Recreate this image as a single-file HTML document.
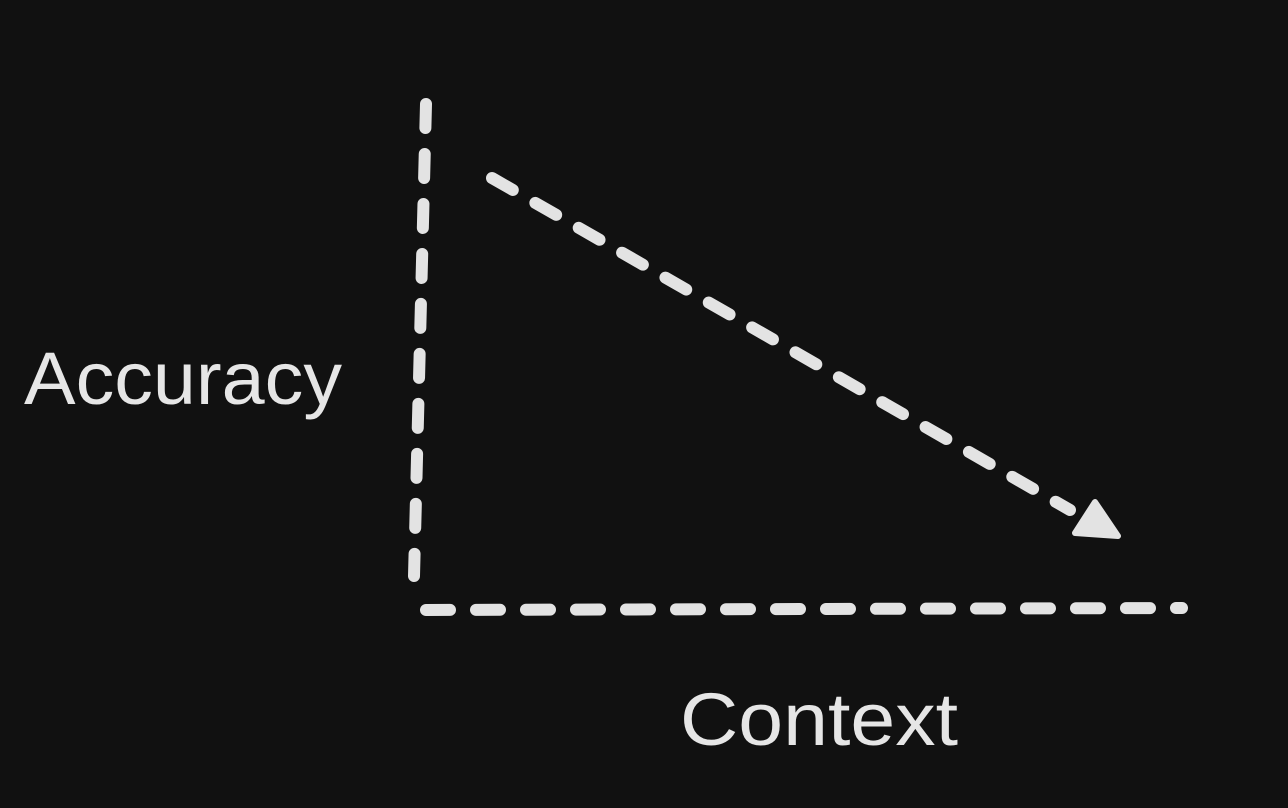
<!DOCTYPE html>
<html><head><style>
html,body{margin:0;padding:0;background:#111111;}
svg{display:block;}
text{font-family:"Liberation Sans","DejaVu Sans",sans-serif;fill:#e6e6e6;}
</style></head><body>
<svg width="1288" height="808" viewBox="0 0 1288 808">
<rect width="1288" height="808" fill="#111111"/>
<g stroke="#e3e3e3" stroke-width="12" stroke-linecap="round" fill="none">
<line x1="426" y1="104" x2="414" y2="576" stroke-dasharray="24 26"/>
<line x1="426" y1="610" x2="1182" y2="608" stroke-dasharray="24 26"/>
<line x1="492" y1="178" x2="1070" y2="510" stroke-dasharray="24 26"/>
</g>
<polygon points="1095,502 1118,536 1075,533" fill="#e3e3e3" stroke="#e3e3e3" stroke-width="6" stroke-linejoin="round"/>
<text x="24" y="404" font-size="74" textLength="318" lengthAdjust="spacingAndGlyphs">Accuracy</text>
<text x="680" y="745" font-size="74" textLength="278" lengthAdjust="spacingAndGlyphs">Context</text>
</svg>
</body></html>
